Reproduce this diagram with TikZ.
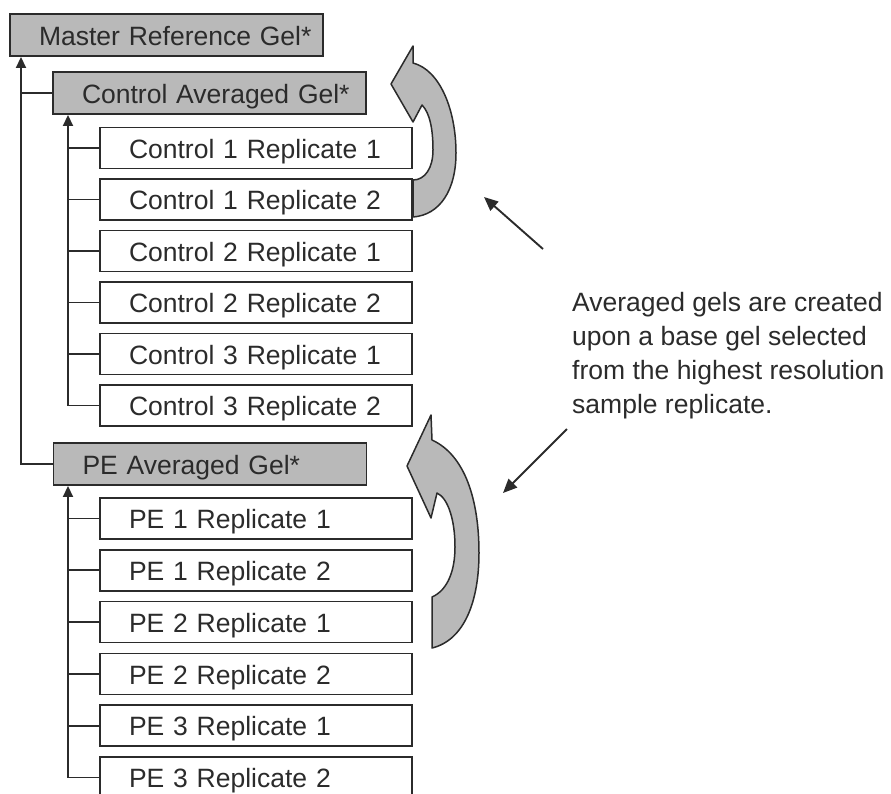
\documentclass[tikz,border=0pt]{standalone}
\usepackage{fontspec}
\setmainfont{Liberation Sans}
\usetikzlibrary{arrows.meta}
\definecolor{ink}{HTML}{2B2B2B}
\definecolor{shade}{HTML}{B9B9B9}
\begin{document}
\begin{tikzpicture}[x=1pt,y=-1pt,
  every node/.style={font=\fontsize{26.5}{34}\selectfont, text=ink},
  gelbox/.style={draw=ink, line width=1.9pt, rectangle, inner xsep=0pt, inner ysep=0pt,
    text width=312pt, text height=20pt, text depth=0pt, minimum height=41pt, align=left,
    execute at begin node={\hspace*{29pt}}},
  avgbox/.style={gelbox, fill=shade, text width=313pt, minimum height=42pt},
  link/.style={draw=ink, line width=1.8pt},
  uparrow/.style={link, -{Triangle[length=11pt,width=10pt]}},
  pointer/.style={draw=ink, line width=1.9pt, -{Triangle[length=14pt,width=12pt]}},
  bigarrow/.style={fill=shade, draw=ink, line width=1.5pt, line join=round},
]
\useasboundingbox (0,0) rectangle (891,793);
\clip (0,0) rectangle (891,793);

% boxes
\node[avgbox] (master) at (166.5,35) {Master Reference Gel*};
\node[avgbox] (cavg) at (209.5,93) {Control Averaged Gel*};
\node[gelbox] (c11) at (256,148) {Control 1 Replicate 1};
\node[gelbox] (c12) at (256,199.5) {Control 1 Replicate 2};
\node[gelbox] (c21) at (256,251) {Control 2 Replicate 1};
\node[gelbox] (c22) at (256,302.5) {Control 2 Replicate 2};
\node[gelbox] (c31) at (256,354) {Control 3 Replicate 1};
\node[gelbox] (c32) at (256,405.5) {Control 3 Replicate 2};
\node[avgbox] (peavg) at (210,464) {PE Averaged Gel*};
\node[gelbox] (p11) at (256,518.5) {PE 1 Replicate 1};
\node[gelbox] (p12) at (256,570.3) {PE 1 Replicate 2};
\node[gelbox] (p21) at (256,622) {PE 2 Replicate 1};
\node[gelbox] (p22) at (256,674) {PE 2 Replicate 2};
\node[gelbox] (p31) at (256,725.7) {PE 3 Replicate 1};
\node[gelbox] (p32) at (256,777.5) {PE 3 Replicate 2};

% trunks
\coordinate (t1) at (21,0);
\coordinate (t2) at (68,0);
\draw[uparrow] (peavg.west) -| (master.south -| t1);
\draw[link] (cavg.west) -- (cavg.west -| t1);
\draw[uparrow] (c32.west) -| (cavg.south -| t2);
\foreach \n in {c11,c12,c21,c22,c31} \draw[link] (\n.west) -- (\n.west -| t2);
\draw[uparrow] (p32.west) -| (peavg.south -| t2);
\foreach \n in {p11,p12,p21,p22,p31} \draw[link] (\n.west) -- (\n.west -| t2);

% curved block arrows
\draw[bigarrow] (413,217) .. controls (440,215) and (456,190) .. (456,153)
  .. controls (456,110) and (440,70) .. (413,63) -- (413,46) -- (391,84) -- (413,122)
  -- (422,105) .. controls (430,113) and (433,130) .. (433,150)
  .. controls (433,168) and (425,180) .. (413,180) -- cycle;
\draw[bigarrow] (432,648) .. controls (465,640) and (479,600) .. (479,553)
  .. controls (479,500) and (465,455) .. (432,440) -- (431,415) -- (407,466) -- (431,518)
  -- (437,493) .. controls (448,498) and (455,520) .. (455,547)
  .. controls (455,570) and (448,590) .. (432,597) -- cycle;

% note
\node[anchor=north west, align=left, inner sep=0pt] (note) at (572,292)
  {Averaged gels are created\\upon a base gel selected\\from the highest resolution\\sample replicate.};
\coordinate (n1a) at (543,249);
\coordinate (n1b) at (484,197);
\coordinate (n2a) at (567,429);
\coordinate (n2b) at (503,493);
\draw[pointer] (n1a) -- (n1b);
\draw[pointer] (n2a) -- (n2b);
\end{tikzpicture}
\end{document}
